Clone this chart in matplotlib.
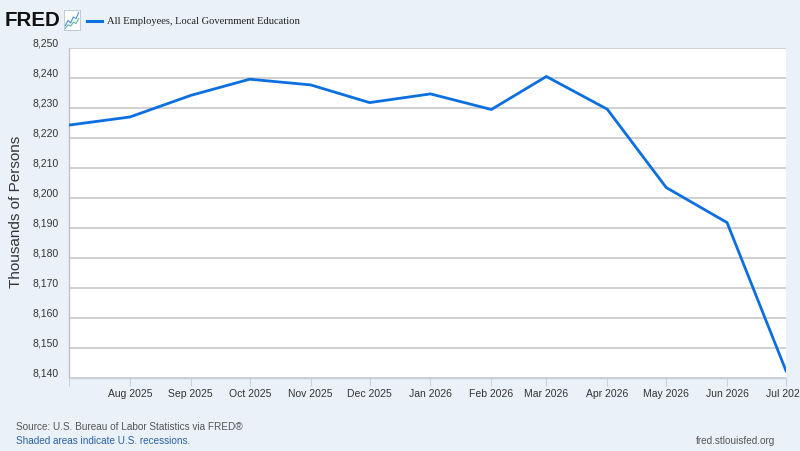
import matplotlib
matplotlib.use("Agg")
import matplotlib.pyplot as plt
import matplotlib.dates as mdates
from matplotlib.transforms import ScaledTranslation
from matplotlib.ticker import FuncFormatter, MultipleLocator
import datetime as dt

# ---- data ----
months = ["2025-07", "2025-08", "2025-09", "2025-10", "2025-11", "2025-12", "2026-01",
          "2026-02", "2026-03", "2026-04", "2026-05", "2026-06", "2026-07"]
values = [8224.3, 8227.0, 8234.2, 8239.6, 8237.7, 8231.8, 8234.7,
          8229.5, 8240.5, 8229.6, 8203.5, 8191.8, 8142.4]
series_name = "All Employees, Local Government Education"
y_label = "Thousands of Persons"
source_text = "Source: U.S. Bureau of Labor Statistics via FRED®"
shade_text = "Shaded areas indicate U.S. recessions."
site_text = "fred.stlouisfed.org"
icon_x = [0, 1, 2, 3, 4, 5]
icon_y1 = [1.0, 2.2, 1.6, 3.0, 2.6, 4.0]
icon_y2 = [0.4, 1.2, 0.9, 1.8, 1.5, 2.6]

dates = [dt.datetime.strptime(m, "%Y-%m") for m in months]

BG = "#EAF1F9"
LINE = "#0B6FE0"
SANS = ["Liberation Sans", "DejaVu Sans"]

fig = plt.figure(figsize=(8.0, 4.51), dpi=100, facecolor=BG)
ax = fig.add_axes([69/800, 1 - 378/451, (786 - 69)/800, (378 - 48)/451])
ax.set_facecolor("white")

ax.plot(dates, values, color=LINE, lw=2.0, solid_joinstyle="miter", zorder=3)

ax.set_xlim(dates[0], dates[-1])
ax.set_ylim(8140, 8250)
ax.yaxis.set_major_locator(MultipleLocator(10))
ax.yaxis.set_major_formatter(FuncFormatter(lambda v, p: f"{v:,.0f}"))
ax.grid(axis="y", color="#C8C8C8", lw=1.2, zorder=1)
ax.grid(axis="x", visible=False)

ax.xaxis.set_major_locator(mdates.MonthLocator())
ax.xaxis.set_major_formatter(mdates.DateFormatter("%b %Y"))

for s in ["top", "right"]:
    ax.spines[s].set_visible(False)
ax.spines["left"].set_color("#C0C0C0")
ax.spines["left"].set_linewidth(1.0)
ax.spines["bottom"].set_color("#C8D0DC")
ax.spines["bottom"].set_linewidth(1.0)

ax.tick_params(axis="y", length=0, pad=7.5, labelsize=7.5, labelcolor="#333333")
ax.tick_params(axis="x", length=6, width=0.8, color="#C8D4E2", pad=2.2,
               labelsize=7.5, labelcolor="#333333")
for lab in ax.get_yticklabels() + ax.get_xticklabels():
    lab.set_family(SANS)
for lab in ax.get_yticklabels():
    lab.set_transform(lab.get_transform() + ScaledTranslation(0, 0.06, fig.dpi_scale_trans))
xt = ax.get_xticklabels()
xt[0].set_visible(False)

fig.text(16/800, 1 - 212/451, y_label, rotation=90, ha="center", va="center",
         fontsize=11, color="#333333", family=SANS)

# header
fig.text(5/800, 1 - 20.5/451, "FRED", ha="left", va="center", fontsize=14.8,
         fontweight="heavy", color="#111111", family=SANS)
icon = fig.add_axes([64/800, 1 - 30/451, 16/800, 20/451])
icon.set_facecolor("white")
icon.plot(icon_x, icon_y1, color="#4A90D9", lw=0.8)
icon.plot(icon_x, icon_y2, color="#5CB89A", lw=0.8)
icon.set_xticks([]); icon.set_yticks([])
icon.set_xlim(-0.5, 5.5); icon.set_ylim(0, 4.6)
for s in icon.spines.values():
    s.set_color("#B8C4D0"); s.set_linewidth(0.6)

fig.add_artist(plt.Line2D([87/800, 102/800], [1 - 21/451, 1 - 21/451],
                          color=LINE, lw=2.2, transform=fig.transFigure))
fig.text(107/800, 1 - 21/451, series_name, ha="left", va="center", fontsize=7.6,
         color="#222222", family=["Liberation Serif", "DejaVu Serif"])

# footer
fig.text(16/800, 1 - 427/451, source_text, ha="left", va="center", fontsize=7.2,
         color="#555555", family=SANS)
fig.text(16/800, 1 - 441.5/451, shade_text, ha="left", va="center", fontsize=7.2,
         color="#2A62A8", family=SANS)
fig.text(775/800, 1 - 441.5/451, site_text, ha="right", va="center", fontsize=7.2,
         color="#555555", family=SANS)

fig.savefig("out.png", dpi=100, facecolor=BG)
